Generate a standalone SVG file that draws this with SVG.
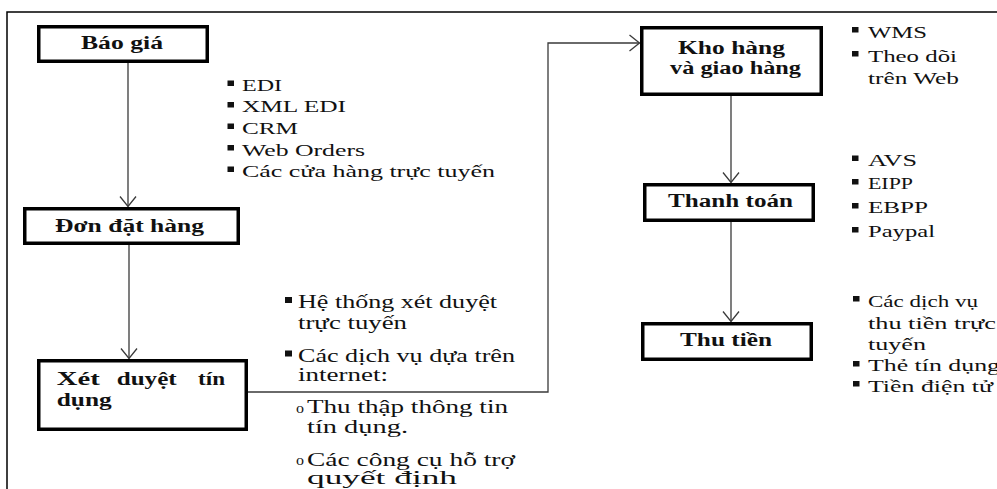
<svg xmlns="http://www.w3.org/2000/svg" width="997" height="489" viewBox="0 0 997 489">
  <defs>
    <style>
      .frame{fill:none;stroke:#000;stroke-width:1.5}
      .box{fill:#fff;stroke:#000;stroke-width:3.5}
      .lbl{font-weight:bold;font-size:18px;fill:#111}
      .item{font-size:16px;fill:#111}
      .mid{font-size:18px}
      .rb{font-size:17px}
      .circ{font-size:15px;fill:#111}
      .bul{fill:#111}
      .conn{fill:none;stroke:#3a3a3a;stroke-width:1.3}
    </style>
    <marker id="arr" markerUnits="userSpaceOnUse" markerWidth="14" markerHeight="20" viewBox="-12 -10 14 20" refX="0" refY="0" orient="auto" overflow="visible">
      <path d="M-10,-8 L0,0 L-10,8" fill="none" stroke="#3a3a3a" stroke-width="1.3"/>
    </marker>
  </defs>

  <rect width="997" height="489" fill="#fff"/>
  <!-- page frame -->
  <path class="frame" d="M7,489 V12 H997"/>

  <!-- connectors -->
  <g id="connectors">
    <path class="conn" d="M128,63 V206.5" marker-end="url(#arr)"/>
    <path class="conn" d="M129,245 V358.5" marker-end="url(#arr)"/>
    <path class="conn" d="M248,392 H548 V43 H639.5" marker-end="url(#arr)"/>
    <path class="conn" d="M731,96 V182.5" marker-end="url(#arr)"/>
    <path class="conn" d="M731,222 V321.5" marker-end="url(#arr)"/>
  </g>

  <g font-family="'Liberation Serif', 'DejaVu Serif', serif">
  <!-- process steps -->
  <g id="bao-gia">
    <rect class="box" x="38.75" y="26.75" width="168.5" height="34.5"/>
    <text class="lbl" x="81" y="48.5" textLength="82" lengthAdjust="spacingAndGlyphs">Báo giá</text>
  </g>
  <g id="don-dat-hang">
    <rect class="box" x="24.75" y="208.75" width="213.5" height="34.5"/>
    <text class="lbl" x="55" y="232" textLength="149" lengthAdjust="spacingAndGlyphs">Đơn đặt hàng</text>
  </g>
  <g id="xet-duyet-tin-dung">
    <rect class="box" x="38.75" y="360.75" width="207.5" height="68.5"/>
    <text class="lbl" y="384.5">
      <tspan x="56.7" textLength="43" lengthAdjust="spacingAndGlyphs">Xét</tspan>
      <tspan x="116.7" textLength="60" lengthAdjust="spacingAndGlyphs">duyệt</tspan>
      <tspan x="198" textLength="27" lengthAdjust="spacingAndGlyphs">tín</tspan>
    </text>
    <text class="lbl" x="56.7" y="405.5" textLength="55" lengthAdjust="spacingAndGlyphs">dụng</text>
  </g>
  <g id="kho-hang">
    <rect class="box" x="641.75" y="27.75" width="179.5" height="66.5"/>
    <text class="lbl" x="678" y="53.5" textLength="107" lengthAdjust="spacingAndGlyphs">Kho hàng</text>
    <text class="lbl" x="670" y="74" textLength="131" lengthAdjust="spacingAndGlyphs">và giao hàng</text>
  </g>
  <g id="thanh-toan">
    <rect class="box" x="644.75" y="184.75" width="168.5" height="35.5"/>
    <text class="lbl" x="668" y="207" textLength="125" lengthAdjust="spacingAndGlyphs">Thanh toán</text>
  </g>
  <g id="thu-tien">
    <rect class="box" x="642.75" y="323.75" width="168.5" height="35.5"/>
    <text class="lbl" x="680" y="346" textLength="92" lengthAdjust="spacingAndGlyphs">Thu tiền</text>
  </g>

  <!-- order channels -->
  <g id="list-order">
    <rect class="bul" x="227.5" y="80.5" width="6.5" height="5.5"/>
    <rect class="bul" x="227.5" y="102" width="6.5" height="5.5"/>
    <rect class="bul" x="227.5" y="123.5" width="6.5" height="5.5"/>
    <rect class="bul" x="227.5" y="145" width="6.5" height="5.5"/>
    <rect class="bul" x="227.5" y="166.5" width="6.5" height="5.5"/>
    <text class="item" x="242" y="90.7" textLength="40" lengthAdjust="spacingAndGlyphs">EDI</text>
    <text class="item" x="242" y="112.3" textLength="104" lengthAdjust="spacingAndGlyphs">XML EDI</text>
    <text class="item" x="242" y="134" textLength="56" lengthAdjust="spacingAndGlyphs">CRM</text>
    <text class="item" x="242" y="155.6" textLength="123" lengthAdjust="spacingAndGlyphs">Web Orders</text>
    <text class="item" x="242" y="177.2" textLength="253" lengthAdjust="spacingAndGlyphs">Các cửa hàng trực tuyến</text>
  </g>

  <!-- credit approval tools -->
  <g id="list-credit">
    <rect class="bul" x="285" y="297" width="7" height="6"/>
    <rect class="bul" x="285" y="350.5" width="7" height="6"/>
    <text class="item mid" x="298" y="308" textLength="199" lengthAdjust="spacingAndGlyphs">Hệ thống xét duyệt</text>
    <text class="item mid" x="298" y="329" textLength="109" lengthAdjust="spacingAndGlyphs">trực tuyến</text>
    <text class="item mid" x="298" y="361.5" textLength="217" lengthAdjust="spacingAndGlyphs">Các dịch vụ dựa trên</text>
    <text class="item mid" x="298" y="381" textLength="90" lengthAdjust="spacingAndGlyphs">internet:</text>
    <text class="circ" x="296" y="412.5" textLength="8" lengthAdjust="spacingAndGlyphs">o</text>
    <text class="item mid" x="307" y="413" textLength="201" lengthAdjust="spacingAndGlyphs">Thu thập thông tin</text>
    <text class="item mid" x="307" y="433" textLength="101" lengthAdjust="spacingAndGlyphs">tín dụng.</text>
    <text class="circ" x="296" y="465" textLength="8" lengthAdjust="spacingAndGlyphs">o</text>
    <text class="item mid" x="307" y="465.5" textLength="208" lengthAdjust="spacingAndGlyphs">Các công cụ hỗ trợ</text>
    <text class="item mid" x="307" y="484" textLength="150" lengthAdjust="spacingAndGlyphs">quyết định</text>
  </g>

  <!-- warehouse tools -->
  <g id="list-warehouse">
    <rect class="bul" x="852" y="27" width="6.5" height="5.5"/>
    <rect class="bul" x="852" y="51" width="6.5" height="5.5"/>
    <text class="item" x="868" y="37.5" textLength="59" lengthAdjust="spacingAndGlyphs">WMS</text>
    <text class="item" x="868" y="61.5" textLength="89" lengthAdjust="spacingAndGlyphs">Theo dõi</text>
    <text class="item" x="868" y="84" textLength="91" lengthAdjust="spacingAndGlyphs">trên Web</text>
  </g>

  <!-- payment tools -->
  <g id="list-payment">
    <rect class="bul" x="852" y="155.5" width="6.5" height="5.5"/>
    <rect class="bul" x="852" y="179" width="6.5" height="5.5"/>
    <rect class="bul" x="852" y="203" width="6.5" height="5.5"/>
    <rect class="bul" x="852" y="227" width="6.5" height="5.5"/>
    <text class="item" x="868" y="165.7" textLength="49" lengthAdjust="spacingAndGlyphs">AVS</text>
    <text class="item" x="868" y="189" textLength="45" lengthAdjust="spacingAndGlyphs">EIPP</text>
    <text class="item" x="868" y="213.3" textLength="60" lengthAdjust="spacingAndGlyphs">EBPP</text>
    <text class="item" x="868" y="237" textLength="67" lengthAdjust="spacingAndGlyphs">Paypal</text>
  </g>

  <!-- collection tools -->
  <g id="list-collection">
    <rect class="bul" x="853" y="296" width="6.5" height="5.5"/>
    <rect class="bul" x="853" y="361" width="6.5" height="5.5"/>
    <rect class="bul" x="853" y="381" width="6.5" height="5.5"/>
    <text class="item rb" x="868" y="306.7" textLength="110" lengthAdjust="spacingAndGlyphs">Các dịch vụ</text>
    <text class="item rb" x="868" y="328.5" textLength="128" lengthAdjust="spacingAndGlyphs">thu tiền trực</text>
    <text class="item rb" x="868" y="349.5" textLength="58" lengthAdjust="spacingAndGlyphs">tuyến</text>
    <text class="item rb" x="868" y="371.2" textLength="132" lengthAdjust="spacingAndGlyphs">Thẻ tín dụng</text>
    <text class="item rb" x="868" y="391.5" textLength="125" lengthAdjust="spacingAndGlyphs">Tiền điện tử</text>
  </g>
  </g>
</svg>
